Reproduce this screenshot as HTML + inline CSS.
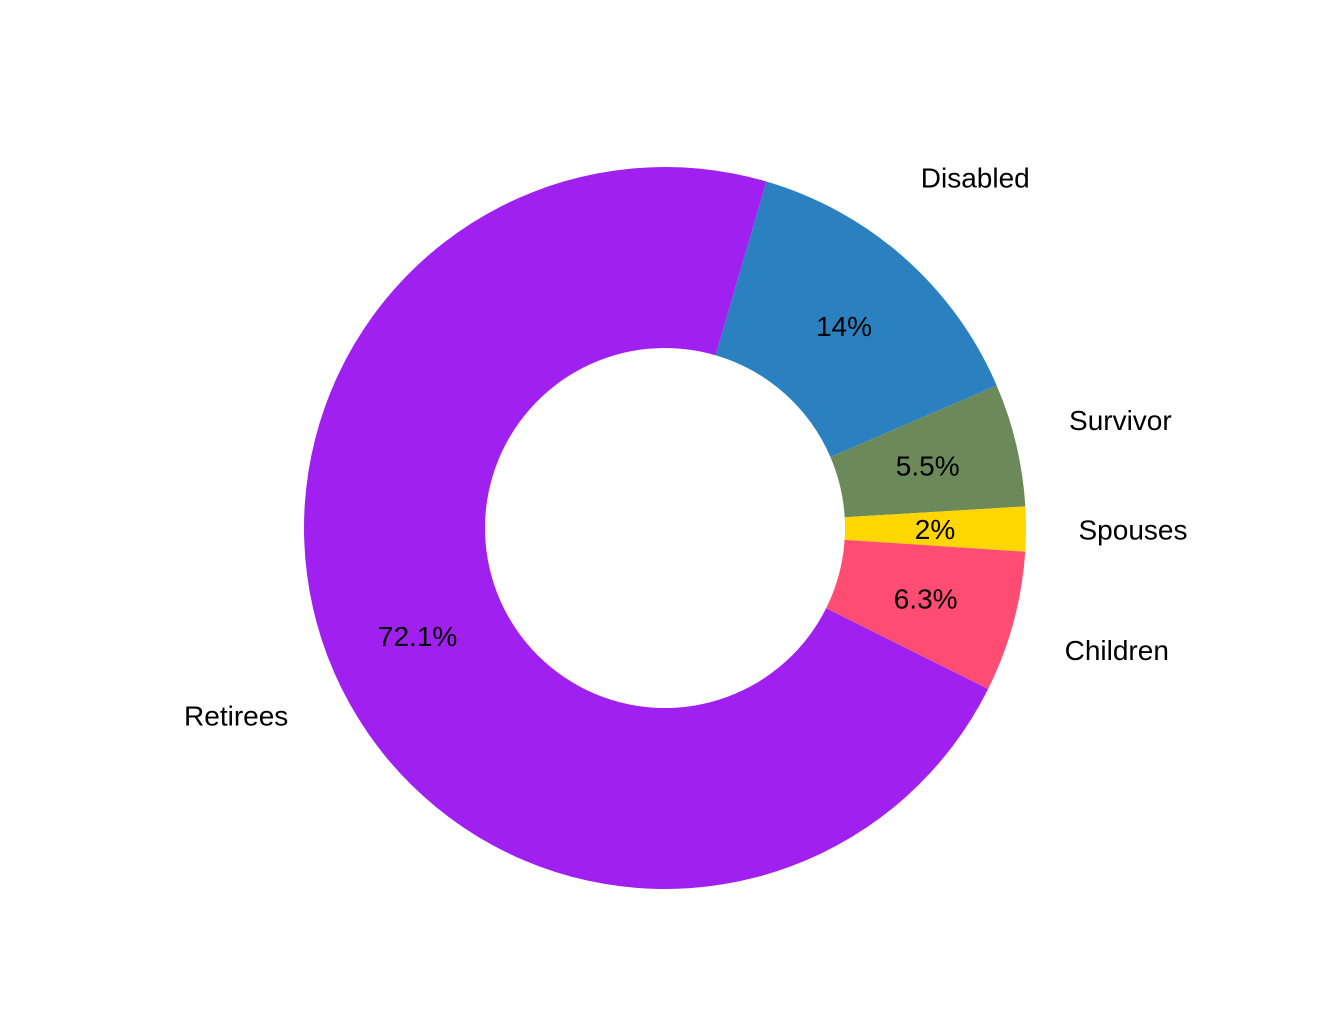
<!DOCTYPE html>
<html><head><meta charset="utf-8"><style>
html,body{margin:0;padding:0;background:#fff;}
svg text{font-family:"Liberation Sans",Arial,sans-serif;font-size:28px;fill:#000;}
</style></head><body>
<svg id="chart" width="1344" height="1008" viewBox="0 0 1344 1008" xmlns="http://www.w3.org/2000/svg"></svg>
<script>
const categories = ["Disabled","Survivor","Spouses","Children","Retirees"];
const values = [14, 5.5, 2, 6.3, 72.1];
const valueLabels = ["14%","5.5%","2%","6.3%","72.1%"];
const colors = ["#2B81C0","#6C895A","#FFD700","#FF4C73","#A020F0"];

const svg = document.getElementById('chart');
const NS = 'http://www.w3.org/2000/svg';
const cx = 665, cy = 528, rOut = 361, rIn = 180, rMid = 270, rLab = 468;
const startDeg = 16.3;
const total = values.reduce((a,b)=>a+b,0);
function pt(deg, r){ const a = deg*Math.PI/180; return [cx + r*Math.sin(a), cy - r*Math.cos(a)]; }
let acc = startDeg;
values.forEach((v,i)=>{
  const span = v/total*360;
  const a0 = acc, a1 = acc + span; acc = a1;
  const large = span > 180 ? 1 : 0;
  const [x0,y0] = pt(a0,rOut), [x1,y1] = pt(a1,rOut), [x2,y2] = pt(a1,rIn), [x3,y3] = pt(a0,rIn);
  const p = document.createElementNS(NS,'path');
  p.setAttribute('d',`M${x0},${y0} A${rOut},${rOut} 0 ${large} 1 ${x1},${y1} L${x2},${y2} A${rIn},${rIn} 0 ${large} 0 ${x3},${y3} Z`);
  p.setAttribute('fill',colors[i]);
  
  
  svg.appendChild(p);
  const mid = (a0+a1)/2;
  const [mx,my] = pt(mid,rMid);
  const t = document.createElementNS(NS,'text');
  t.setAttribute('x',mx); t.setAttribute('y',my+10); t.setAttribute('text-anchor','middle');
  t.textContent = valueLabels[i];
  
  
  svg.appendChild(t);
  const [lx,ly] = pt(mid,rLab);
  const c = document.createElementNS(NS,'text');
  c.setAttribute('x',lx); c.setAttribute('y',ly+10); c.setAttribute('text-anchor','middle');
  c.textContent = categories[i];
  
  
  svg.appendChild(c);
});
</script>
</body></html>
